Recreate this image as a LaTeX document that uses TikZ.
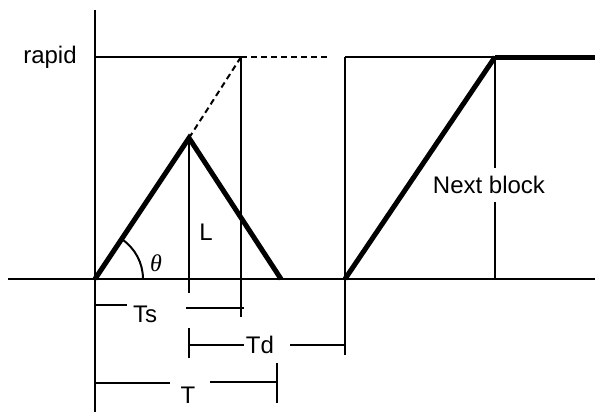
\documentclass[tikz,border=0pt]{standalone}
\usepackage{fontspec}
\setmainfont{Liberation Sans}
\newfontfamily\greekfont{Liberation Serif}
\usetikzlibrary{calc}
\tikzset{every picture/.style={line cap=butt, line join=miter}}
\tikzset{thinline/.style={line width=1pt}}
\tikzset{thickline/.style={line width=2.5pt}}
\tikzset{dashline/.style={line width=1pt, dash pattern=on 3pt off 2pt}}
\tikzset{lbl/.style={inner sep=1pt, font=\fontsize{12}{14}\selectfont}}

\begin{document}
\begin{tikzpicture}[x=0.5pt,y=-0.5pt]
	\useasboundingbox (0,0) rectangle (595,412);
	% key points
	\coordinate (o) at (95,279);
	\coordinate (apex) at (189,138);
	\coordinate (tend) at (281,279);
	\coordinate (top) at (241,57);
	\coordinate (nb) at (345,279);
	\coordinate (ntop) at (345,57);
	\coordinate (rtop) at (495,57);
	% axes
	\draw[thinline] (95,10) -- (95,412);
	\draw[thinline] (8,279) -- (595,279);
	% rapid level
	\node[lbl] (rapid) at (50,57) {rapid};
	\draw[thinline] (95,57) -- (top);
	\draw[dashline] (top) -- (330,57);
	\draw[dashline] (apex) -- (top);
	% triangle
	\draw[thickline] (o) -- (apex) -- (tend);
	\draw[thinline] (apex) -- (189,293);
	\draw[thinline] (top) -- (241,317);
	\node[lbl] (L) at (206,232) {L};
	\draw[thinline] ($(o)+(48,0)$) arc (0:-56:48);
	\node[lbl] (theta) at (156,263) {\greekfont\itshape θ};
	% Ts
	\node[lbl] (ts) at (145,314) {Ts};
	\draw[thinline] (95,305) -- (127,305);
	\draw[thinline] (186,308) -- (244,308);
	% Td
	\node[lbl] (td) at (260,345) {Td};
	\draw[thinline] (189,328) -- (189,358);
	\draw[thinline] (189,345) -- (td.west);
	\draw[thinline] (290,345) -- (346,345);
	% T
	\node[lbl] (tt) at (188,395) {T};
	\draw[thinline] (95,383) -- (170,383);
	\draw[thinline] (210,382) -- (277,382);
	\draw[thinline] (277,363) -- (277,403);
	% next block
	\draw[thinline] (ntop) -- (345,355);
	\draw[thinline] (ntop) -- (rtop);
	\draw[thickline] (rtop) -- (595,57);
	\draw[thickline] (nb) -- (rtop);
	\draw[thinline] (rtop) -- (495,279);
	\node[lbl, fill=white, inner ysep=4pt] (next) at (489,185) {Next block};
\end{tikzpicture}
\end{document}
